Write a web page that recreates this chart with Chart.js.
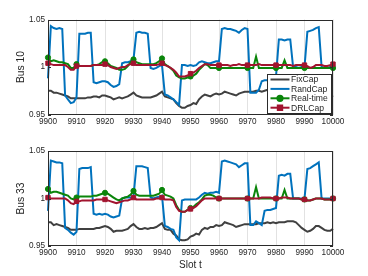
<!DOCTYPE html>
<html>
<head>
<meta charset="utf-8">
<script src="https://cdn.jsdelivr.net/npm/chart.js@4.4.0/dist/chart.umd.min.js"></script>
<style>
  html, body { margin: 0; padding: 0; background: #fff; }
  .plot { position: absolute; left: 0; width: 368px; height: 138px; }
</style>
</head>
<body>
<div class="plot" style="top:0"><canvas id="bus10" width="368" height="138"></canvas></div>
<div class="plot" style="top:138px"><canvas id="bus33" width="368" height="138"></canvas></div>
<script>
const slots = [];
for (let t = 9900; t <= 10000; t++) slots.push(t);

const xTicks = [9900, 9910, 9920, 9930, 9940, 9950, 9960, 9970, 9980, 9990, 10000];
const yTicks = [0.95, 1, 1.05];
const seriesNames = ['FixCap', 'RandCap', 'Real-time', 'DRLCap'];
const seriesColors = ['#404040', '#0072bd', '#0a850a', '#a2142f'];

// Bus 10
const fix10 = [
  0.975, 0.975, 0.973, 0.973, 0.972, 0.971, 0.970, 0.969, 0.967, 0.967, 0.967,
  0.967, 0.967, 0.967, 0.968, 0.968, 0.969, 0.969, 0.968, 0.970, 0.970,
  0.969, 0.968, 0.966, 0.967, 0.968, 0.967, 0.968, 0.969, 0.971, 0.973,
  0.970, 0.969, 0.968, 0.968, 0.968, 0.968, 0.969, 0.970, 0.972, 0.974,
  0.969, 0.968, 0.967, 0.966, 0.962, 0.959, 0.957, 0.957, 0.959, 0.960,
  0.962, 0.961, 0.966, 0.969, 0.971, 0.970, 0.969, 0.971, 0.972, 0.971,
  0.972, 0.974, 0.973, 0.972, 0.971, 0.970, 0.972, 0.973, 0.974, 0.974,
  0.974, 0.974, 0.975, 0.975, 0.974, 0.975, 0.976, 0.975, 0.976, 0.976,
  0.975, 0.976, 0.975, 0.976, 0.977, 0.978, 0.976, 0.973, 0.970, 0.968,
  0.967, 0.969, 0.972, 0.974, 0.972, 0.970, 0.968, 0.967, 0.968, 0.970
];
const rand10 = [
  0.988, 1.043, 1.041, 1.040, 1.041, 1.040, 0.970, 0.966, 0.962, 0.963, 0.968,
  1.035, 1.035, 1.035, 1.036, 1.036, 0.984, 0.983, 0.984, 0.985, 0.985,
  0.984, 0.981, 0.979, 0.980, 0.982, 1.004, 1.005, 1.005, 1.006, 1.008,
  1.036, 1.037, 1.036, 1.036, 1.035, 0.999, 0.998, 0.999, 1.001, 1.002,
  0.971, 0.970, 0.968, 0.966, 0.963, 0.960, 1.002, 1.002, 1.001, 1.002,
  1.001, 1.002, 1.005, 1.006, 1.005, 1.004, 1.004, 1.005, 1.006, 1.006,
  1.040, 1.041, 1.040, 1.040, 1.039, 1.038, 1.036, 1.039, 1.041, 1.040,
  0.973, 0.973, 0.973, 0.976, 0.985, 0.986, 0.986, 0.987, 0.988, 0.990,
  1.029, 1.029, 1.028, 1.029, 1.029, 1.000, 1.000, 0.999, 1.000, 1.000,
  1.037, 1.038, 1.039, 1.041, 1.042, 1.000, 0.999, 0.999, 1.000, 1.000
];
const real10 = [
  1.010, 1.006, 1.007, 1.006, 1.005, 1.005, 1.004, 1.003, 0.999, 0.999, 1.003,
  1.001, 1.001, 1.001, 1.001, 1.001, 1.002, 1.002, 1.003, 1.005, 1.006,
  1.004, 1.001, 1.000, 0.999, 0.997, 0.997, 0.998, 1.001, 1.005, 1.008,
  1.005, 1.004, 1.003, 1.003, 1.003, 1.003, 1.003, 1.004, 1.006, 1.009,
  1.003, 1.001, 0.999, 0.996, 0.991, 0.989, 0.988, 0.988, 0.989, 0.990,
  0.991, 0.993, 0.997, 1.000, 1.003, 1.002, 0.999, 0.999, 0.999, 0.999,
  0.999, 0.999, 0.999, 0.999, 0.999, 0.999, 0.999, 0.999, 0.999, 0.999,
  0.999, 0.999, 1.011, 0.999, 0.999, 0.999, 0.999, 0.999, 0.999, 0.999,
  0.999, 0.999, 1.007, 0.999, 0.999, 0.999, 0.999, 0.999, 0.999, 0.999,
  0.999, 0.999, 0.999, 0.999, 0.999, 0.999, 0.999, 0.999, 0.999, 0.999
];
const drl10 = [
  1.004, 1.003, 1.002, 1.002, 1.002, 1.002, 1.002, 1.000, 0.997, 0.997, 1.001,
  1.001, 1.001, 1.001, 1.001, 1.001, 1.002, 1.002, 1.002, 1.002, 1.003,
  1.002, 1.000, 0.999, 0.998, 0.999, 1.000, 1.000, 1.002, 1.003, 1.004,
  1.002, 1.002, 1.002, 1.002, 1.002, 1.002, 1.002, 1.002, 1.003, 1.004,
  1.002, 1.001, 0.999, 0.997, 0.994, 0.990, 0.990, 0.990, 0.991, 0.993,
  0.994, 0.996, 0.999, 1.001, 1.003, 1.003, 1.002, 1.002, 1.002, 1.002,
  1.002, 1.002, 1.002, 1.001, 1.002, 1.002, 1.003, 1.002, 1.002, 1.002,
  1.002, 1.002, 1.002, 1.003, 1.002, 1.002, 1.002, 1.002, 1.002, 1.002,
  1.002, 1.002, 1.002, 1.002, 1.002, 1.001, 1.002, 1.002, 1.002, 1.002,
  1.001, 0.999, 1.000, 1.002, 1.002, 1.002, 1.001, 1.001, 1.002, 1.003
];

// Bus 33
const fix33 = [
  0.975, 0.975, 0.972, 0.973, 0.972, 0.971, 0.970, 0.969, 0.967, 0.967, 0.967,
  0.968, 0.968, 0.968, 0.968, 0.968, 0.968, 0.969, 0.969, 0.970, 0.971,
  0.970, 0.968, 0.965, 0.966, 0.966, 0.966, 0.967, 0.968, 0.971, 0.973,
  0.970, 0.968, 0.968, 0.969, 0.968, 0.969, 0.969, 0.970, 0.972, 0.974,
  0.968, 0.967, 0.967, 0.963, 0.961, 0.957, 0.956, 0.956, 0.957, 0.960,
  0.961, 0.963, 0.962, 0.967, 0.969, 0.968, 0.970, 0.970, 0.972, 0.971,
  0.972, 0.975, 0.974, 0.973, 0.972, 0.970, 0.971, 0.972, 0.973, 0.973,
  0.973, 0.973, 0.973, 0.974, 0.974, 0.974, 0.975, 0.974, 0.975, 0.974,
  0.975, 0.975, 0.975, 0.976, 0.976, 0.976, 0.975, 0.972, 0.969, 0.967,
  0.965, 0.966, 0.968, 0.971, 0.971, 0.969, 0.967, 0.966, 0.966, 0.968
];
const rand33 = [
  0.987, 1.040, 1.039, 1.038, 1.038, 1.037, 0.969, 0.967, 0.964, 0.962, 0.965,
  1.031, 1.032, 1.032, 1.032, 1.033, 0.984, 0.983, 0.984, 0.983, 0.984,
  0.983, 0.981, 0.980, 0.981, 0.982, 1.000, 1.001, 1.001, 1.001, 1.002,
  1.034, 1.034, 1.034, 1.033, 1.032, 1.001, 1.000, 1.001, 1.002, 1.003,
  0.971, 0.970, 0.968, 0.967, 0.959, 0.956, 0.998, 0.999, 0.999, 0.999,
  0.999, 0.999, 1.001, 1.004, 1.006, 1.005, 1.006, 1.006, 1.007, 1.006,
  1.039, 1.040, 1.039, 1.038, 1.037, 1.036, 1.033, 1.035, 1.037, 1.037,
  0.972, 0.972, 0.976, 0.974, 0.972, 0.987, 0.988, 0.988, 0.989, 0.990,
  1.024, 1.025, 1.024, 1.026, 1.026, 1.000, 1.000, 1.000, 1.000, 1.000,
  1.031, 1.032, 1.034, 1.036, 1.038, 1.000, 1.000, 1.000, 1.000, 1.000
];
const real33 = [
  1.010, 1.006, 1.007, 1.007, 1.006, 1.005, 1.004, 1.003, 1.000, 0.999, 1.001,
  1.002, 1.002, 1.002, 1.002, 1.002, 1.003, 1.003, 1.004, 1.005, 1.006,
  1.005, 1.003, 1.001, 0.999, 0.998, 1.000, 1.001, 1.002, 1.004, 1.008,
  1.004, 1.003, 1.003, 1.003, 1.003, 1.003, 1.003, 1.004, 1.005, 1.009,
  1.004, 1.003, 1.002, 1.000, 0.993, 0.988, 0.986, 0.986, 0.988, 0.990,
  0.991, 0.994, 0.996, 0.999, 1.003, 1.004, 1.004, 1.003, 1.001, 1.000,
  1.000, 1.000, 1.000, 1.000, 1.000, 1.000, 1.000, 1.000, 1.000, 1.000,
  1.000, 1.000, 1.012, 1.000, 1.000, 1.000, 1.000, 1.000, 1.000, 1.000,
  1.000, 1.000, 1.009, 1.000, 1.000, 1.000, 1.000, 1.000, 0.999, 0.999,
  0.998, 0.998, 0.999, 1.000, 1.000, 1.000, 0.999, 0.999, 0.999, 1.000
];
const drl33 = [
  1.001, 1.000, 1.000, 1.000, 1.000, 1.000, 1.000, 0.998, 0.995, 0.994, 0.997,
  0.997, 0.998, 0.998, 0.998, 0.998, 0.998, 0.999, 0.999, 0.999, 0.999,
  0.998, 0.997, 0.996, 0.995, 0.996, 0.997, 0.998, 0.998, 0.999, 1.001,
  0.999, 0.999, 0.999, 0.999, 0.999, 0.999, 0.999, 1.000, 1.000, 1.001,
  0.999, 0.999, 0.999, 0.998, 0.991, 0.987, 0.986, 0.986, 0.988, 0.989,
  0.990, 0.992, 0.995, 0.998, 1.000, 1.000, 1.000, 1.000, 1.000, 1.000,
  1.000, 1.000, 1.000, 1.000, 1.000, 1.000, 1.000, 1.000, 1.000, 1.000,
  1.000, 1.000, 1.000, 1.000, 1.001, 1.001, 1.001, 1.001, 1.000, 1.000,
  1.000, 1.001, 1.001, 1.001, 1.000, 1.000, 1.000, 1.000, 0.999, 0.999,
  0.998, 0.998, 0.999, 1.000, 1.000, 1.000, 0.999, 0.999, 0.999, 1.000
];

const textColor = '#262626';
const fontFamily = '"Liberation Sans", Arial, sans-serif';

// axes box with inward y ticks (matlab style)
const boxPlugin = {
  id: 'box',
  afterDatasetsDraw(chart) {
    const { ctx, chartArea: a, scales } = chart;
    ctx.save();
    ctx.strokeStyle = '#2b2b2b';
    ctx.lineWidth = 1;
    ctx.strokeRect(Math.round(a.left) + 0.5, Math.round(a.top) + 0.5,
      Math.round(a.right - a.left) - 1, Math.round(a.bottom - a.top) - 1);
    ctx.beginPath();
    yTicks.forEach(v => {
      const y = Math.round(scales.y.getPixelForValue(v)) + 0.5;
      ctx.moveTo(a.left, y); ctx.lineTo(a.left + 3, y);
      ctx.moveTo(a.right, y); ctx.lineTo(a.right - 3, y);
    });
    ctx.stroke();
    ctx.restore();
  }
};

// legend box in the lower right corner of the axes
const boxLegend = {
  id: 'boxLegend',
  afterDraw(chart, args, opts) {
    if (!opts.show) return;
    const { ctx, chartArea: a } = chart;
    const w = 64, h = 39;
    const left = Math.round(a.right) - w - 1.5;
    const top = Math.round(a.bottom) - h - 1.5;
    ctx.save();
    ctx.fillStyle = '#fff';
    ctx.fillRect(left, top, w, h);
    ctx.strokeStyle = '#2b2b2b';
    ctx.lineWidth = 1;
    ctx.strokeRect(left, top, w, h);
    ctx.font = '8.6px ' + fontFamily;
    ctx.textBaseline = 'middle';
    chart.data.datasets.forEach((ds, i) => {
      const y = top + 5 + i * 9.4;
      ctx.strokeStyle = ds.borderColor;
      ctx.lineWidth = 2;
      ctx.beginPath();
      ctx.moveTo(left + 3, y);
      ctx.lineTo(left + 22, y);
      ctx.stroke();
      if (ds.pointStyle === 'circle' || ds.pointStyle === 'rect') {
        Chart.helpers.drawPoint(ctx, {
          pointStyle: ds.pointStyle, radius: ds.legendRadius, borderWidth: 1
        }, left + 12.5, y);
        ctx.fillStyle = ds.borderColor;
        ctx.fill();
      }
      ctx.fillStyle = textColor;
      ctx.fillText(ds.label, left + 23.5, y + 0.5);
    });
    ctx.restore();
  }
};

function markerSize(r) {
  return ctx => xTicks.includes(slots[ctx.dataIndex]) ? r : 0;
}

function toPoints(vals) {
  return vals.map((v, i) => ({ x: slots[i], y: v }));
}

function makeChart(id, series, yTitle, padTop, xAxisHeight, showXTitle, showLegend) {
  const styles = [
    { pointStyle: false, r: 0 },
    { pointStyle: false, r: 0 },
    { pointStyle: 'circle', r: 2.6 },
    { pointStyle: 'rect', r: 3.1 }
  ];
  const datasets = series.map((vals, i) => ({
    label: seriesNames[i],
    data: toPoints(vals),
    borderColor: seriesColors[i],
    backgroundColor: seriesColors[i],
    borderWidth: 2,
    pointStyle: styles[i].pointStyle,
    pointRadius: styles[i].pointStyle ? markerSize(styles[i].r) : 0,
    pointBorderWidth: 1,
    legendRadius: styles[i].r,
    tension: 0,
    order: 4 - i,
    clip: false
  }));

  return new Chart(document.getElementById(id), {
    type: 'line',
    data: { datasets },
    options: {
      responsive: false,
      animation: false,
      events: [],
      layout: { padding: { left: 0, right: 35, top: padTop, bottom: 0 } },
      scales: {
        x: {
          type: 'linear',
          min: 9900,
          max: 10000,
          afterBuildTicks: scale => { scale.ticks = xTicks.map(v => ({ value: v })); },
          afterFit: scale => { scale.height = xAxisHeight; },
          ticks: {
            callback: v => String(v),
            color: textColor,
            font: { family: fontFamily, size: 8.2 },
            maxRotation: 0,
            autoSkip: false,
            padding: 2
          },
          grid: { color: '#e2e2e2', drawTicks: false, lineWidth: 1 },
          border: { display: false },
          title: {
            display: showXTitle,
            text: 'Slot t',
            color: textColor,
            font: { family: fontFamily, size: 10 },
            padding: { top: 0, bottom: 5 }
          }
        },
        y: {
          min: 0.95,
          max: 1.05,
          afterBuildTicks: scale => { scale.ticks = yTicks.map(v => ({ value: v })); },
          afterFit: scale => { scale.width = 48; },
          ticks: {
            callback: v => String(v),
            color: textColor,
            font: { family: fontFamily, size: 8.2 },
            padding: 3
          },
          grid: { display: false, drawTicks: false },
          border: { display: false },
          title: {
            display: true,
            text: yTitle,
            color: textColor,
            font: { family: fontFamily, size: 10.3 },
            padding: { top: 15, bottom: 0 }
          }
        }
      },
      plugins: {
        legend: { display: false },
        tooltip: { enabled: false },
        boxLegend: { show: showLegend }
      }
    },
    plugins: [boxPlugin, boxLegend]
  });
}

makeChart('bus10', [fix10, rand10, real10, drl10], 'Bus 10', 19.5, 23.5, false, true);
makeChart('bus33', [fix33, rand33, real33, drl33], 'Bus 33', 13, 30, true, false);
</script>
</body>
</html>
